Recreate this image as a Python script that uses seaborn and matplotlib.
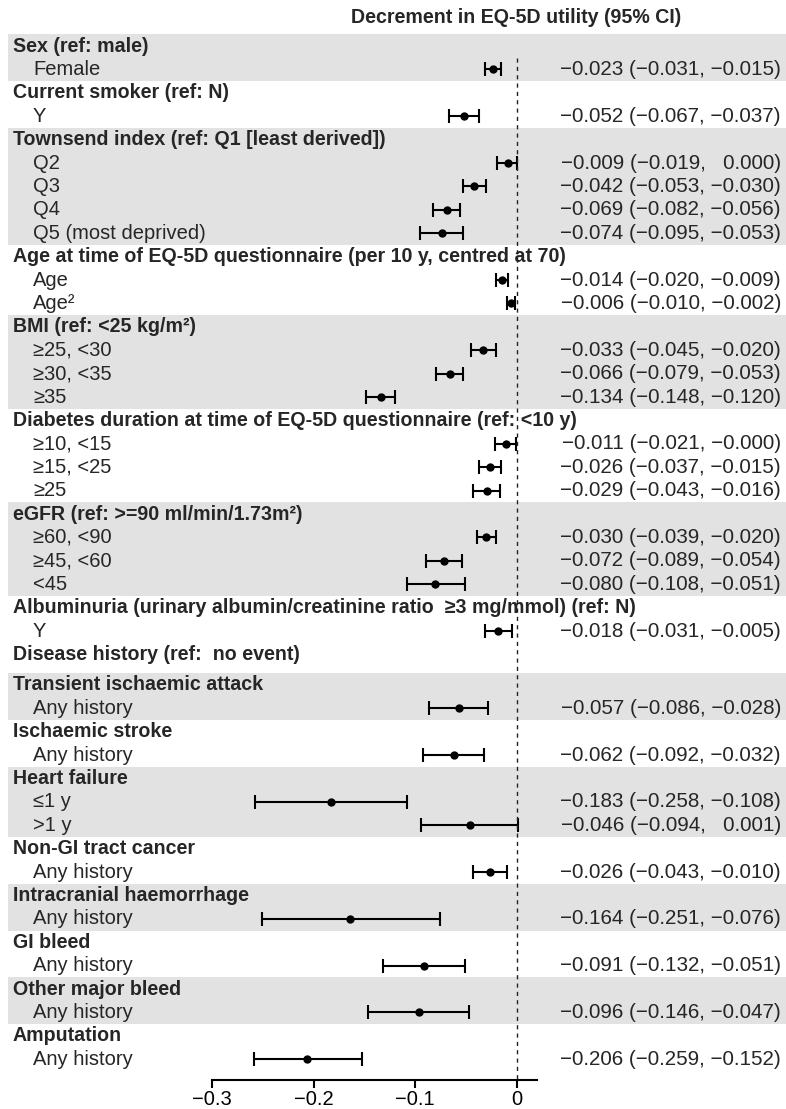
# Forest plot: decrement in EQ-5D utility by patient characteristic
import matplotlib
matplotlib.use("Agg")
import matplotlib.pyplot as plt
import seaborn as sns
from matplotlib.patches import Rectangle

# ========= Data ===========
column_title = "Decrement in EQ-5D utility (95% CI)"

group_titles = [
    "Sex (ref: male)",
    "Current smoker (ref: N)",
    "Townsend index (ref: Q1 [least derived])",
    "Age at time of EQ-5D questionnaire (per 10 y, centred at 70)",
    "BMI (ref: <25 kg/m²)",
    "Diabetes duration at time of EQ-5D questionnaire (ref: <10 y)",
    "eGFR (ref: >=90 ml/min/1.73m²)",
    "Albuminuria (urinary albumin/creatinine ratio  ≥3 mg/mmol) (ref: N)",
    "Disease history (ref:  no event)",
    "Transient ischaemic attack",
    "Ischaemic stroke",
    "Heart failure",
    "Non-GI tract cancer",
    "Intracranial haemorrhage",
    "GI bleed",
    "Other major bleed",
    "Amputation",
]
group_items = [
    ["Female"],
    ["Y"],
    ["Q2", "Q3", "Q4", "Q5 (most deprived)"],
    ["Age", "Age²"],
    ["≥25, <30", "≥30, <35", "≥35"],
    ["≥10, <15", "≥15, <25", "≥25"],
    ["≥60, <90", "≥45, <60", "<45"],
    ["Y"],
    [],
    ["Any history"],
    ["Any history"],
    ["≤1 y", ">1 y"],
    ["Any history"],
    ["Any history"],
    ["Any history"],
    ["Any history"],
    ["Any history"],
]
group_shaded = [True, False, True, False, True, False, True, False, False,
                True, False, True, False, True, False, True, False]

estimate = [-0.023, -0.052, -0.009, -0.042, -0.069, -0.074, -0.014, -0.006,
            -0.033, -0.066, -0.134, -0.011, -0.026, -0.029, -0.030, -0.072,
            -0.080, -0.018, -0.057, -0.062, -0.183, -0.046, -0.026, -0.164,
            -0.091, -0.096, -0.206]
ci_low = [-0.031, -0.067, -0.019, -0.053, -0.082, -0.095, -0.020, -0.010,
          -0.045, -0.079, -0.148, -0.021, -0.037, -0.043, -0.039, -0.089,
          -0.108, -0.031, -0.086, -0.092, -0.258, -0.094, -0.043, -0.251,
          -0.132, -0.146, -0.259]
ci_high = [-0.015, -0.037, 0.000, -0.030, -0.056, -0.053, -0.009, -0.002,
           -0.020, -0.053, -0.120, -0.0004, -0.015, -0.016, -0.020, -0.054,
           -0.051, -0.005, -0.028, -0.032, -0.108, 0.001, -0.010, -0.076,
           -0.051, -0.047, -0.152]

x_ticks = [-0.3, -0.2, -0.1, 0]
x_tick_labels = ["−0.3", "−0.2", "−0.1", "0"]

# ========= Layout ===========
sns.set_theme(style="white")
plt.rcParams["font.family"] = ["Liberation Sans", "DejaVu Sans"]
fs = 14.5
fs_bold = 14.1
fs_ci = 14.9

W, H = 786, 1109
row_px = 23.4
top_px = 46
axis_px = 1080
y_top = -top_px / row_px
y_bot = (H - top_px) / row_px
y_axis = (axis_px - top_px) / row_px

fig = plt.figure(figsize=(W / 100, H / 100), dpi=100)
bg = fig.add_axes([0, 0, 1, 1])
bg.set_xlim(0, 1)
bg.set_ylim(y_bot, y_top)
bg.axis("off")

ax = fig.add_axes([212 / W, (H - axis_px) / H, (537 - 212) / W, axis_px / H])
ax.patch.set_alpha(0)


def fmt(v):
    s = f"{v:.3f}".replace("-", "−")
    return s if s.startswith("−") else "  " + s


pos = 0.0
item_y = []
for g, (title, items, shaded) in enumerate(zip(group_titles, group_items, group_shaded)):
    if g == 9:
        pos += 0.3  # small gap below the disease history heading
    y0 = pos
    bg.text(13 / W, pos, title, weight="bold", fontsize=fs_bold, ha="left", va="center")
    pos += 1
    for it in items:
        bg.text(33 / W, pos, it, fontsize=fs, ha="left", va="center")
        item_y.append(pos)
        pos += 1
    if shaded:
        bg.add_patch(Rectangle((8 / W, y0 - 0.5), 1, pos - y0,
                               facecolor="#e2e2e2", edgecolor="none", zorder=0))

for y, e, lo, hi in zip(item_y, estimate, ci_low, ci_high):
    label = f"{fmt(e)} ({fmt(lo)}, {fmt(hi)})"
    bg.text(781 / W, y, label, fontsize=fs_ci, ha="right", va="center")

bg.text(516 / W, -1.2, column_title, weight="bold", fontsize=fs_bold, ha="center", va="center")

# ========= Forest ===========
xerr = [[e - lo for e, lo in zip(estimate, ci_low)],
        [hi - e for e, hi in zip(estimate, ci_high)]]
ax.errorbar(estimate, item_y, xerr=xerr, fmt="none", ecolor="black",
            elinewidth=1.5, capsize=5, capthick=1.5, zorder=2)
sns.scatterplot(x=estimate, y=item_y, ax=ax, color="black", s=36,
                edgecolor="black", linewidth=0, zorder=3)
ax.vlines(0, item_y[0] - 0.5, y_axis, colors="#222222", linestyles=(0, (3, 3)), lw=1)

ax.set_xlim(-0.3, 0.02)
ax.set_ylim(y_axis, y_top)
ax.set_yticks([])
ax.set_xticks(x_ticks, x_tick_labels)
ax.set_xlabel("")
ax.set_ylabel("")
for side in ["left", "right", "top"]:
    ax.spines[side].set_visible(False)
ax.spines["bottom"].set_linewidth(1.5)
ax.spines["bottom"].set_color("black")
ax.tick_params(axis="x", bottom=True, direction="out", length=6, width=1.5,
               labelsize=fs, pad=1.5, colors="black")

fig.savefig("out.png", dpi=100)
